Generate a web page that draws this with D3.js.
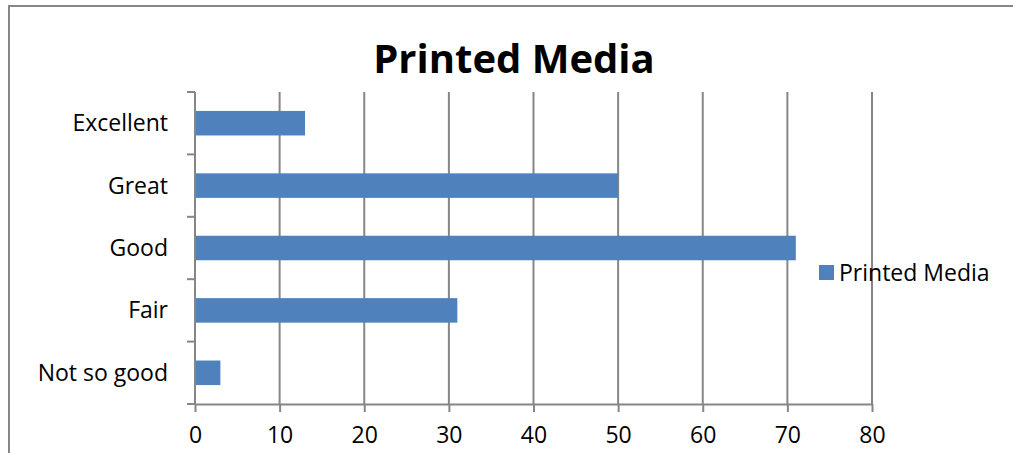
<!DOCTYPE html>
<html>
<head>
<meta charset="utf-8">
<script src="https://cdn.jsdelivr.net/npm/d3@7"></script>
<style>
  html, body { margin: 0; padding: 0; background: #fff; overflow: hidden; }
  svg { display: block; font-family: "Open Sans", "Liberation Sans", sans-serif; }
</style>
</head>
<body>
<svg id="chart" width="1013" height="453"></svg>
<script>
// Survey ratings for printed media
const categories = ["Excellent", "Great", "Good", "Fair", "Not so good"];
const values = [13, 50, 71, 31, 3];
const xTicks = [0, 10, 20, 30, 40, 50, 60, 70, 80];
const seriesName = "Printed Media";
const chartTitle = "Printed Media";

const svg = d3.select("#chart");
const barColor = "#4F81BD";
const lineColor = "#868686";

// outer chart frame (left and top edges visible)
svg.append("line")
  .attr("x1", 9).attr("x2", 9).attr("y1", 6).attr("y2", 453)
  .attr("stroke", lineColor).attr("stroke-width", 2);
svg.append("line")
  .attr("x1", 8).attr("x2", 1013).attr("y1", 6).attr("y2", 6)
  .attr("stroke", lineColor).attr("stroke-width", 2);

const plot = { left: 195, right: 872, top: 92, bottom: 404 };

const x = d3.scaleLinear().domain([0, 80]).range([plot.left, plot.right]);
const y = d3.scaleBand()
  .domain(categories)
  .range([plot.top, plot.bottom])
  .paddingInner(0.607)
  .paddingOuter(0.3035);

// vertical gridlines
svg.append("g")
  .selectAll("line")
  .data(xTicks.filter(d => d > 0))
  .join("line")
  .attr("x1", d => x(d)).attr("x2", d => x(d))
  .attr("y1", plot.top).attr("y2", plot.bottom)
  .attr("stroke", lineColor)
  .attr("stroke-width", 2);

// bars
svg.append("g")
  .selectAll("rect")
  .data(categories.map((c, i) => ({ c, v: values[i] })))
  .join("rect")
  .attr("x", x(0))
  .attr("y", d => y(d.c))
  .attr("width", d => x(d.v) - x(0))
  .attr("height", y.bandwidth())
  .attr("fill", barColor);

// x axis
const xAxis = svg.append("g")
  .attr("transform", `translate(0,${plot.bottom})`)
  .call(d3.axisBottom(x).tickValues(xTicks).tickSizeOuter(0).tickSizeInner(8).tickPadding(15));
xAxis.select(".domain").attr("stroke", lineColor).attr("stroke-width", 2);
xAxis.selectAll(".tick line").attr("stroke", lineColor).attr("stroke-width", 2);
xAxis.selectAll(".tick text")
  .attr("fill", "#000")
  .style("font-size", "23px")
  .style("font-family", "'Open Sans', sans-serif");

// y axis: line with ticks at category boundaries
const yAxis = svg.append("g");
yAxis.append("line")
  .attr("x1", plot.left).attr("x2", plot.left)
  .attr("y1", plot.top).attr("y2", plot.bottom)
  .attr("stroke", lineColor).attr("stroke-width", 2);
const boundaries = d3.range(categories.length + 1).map(i => plot.top + i * y.step());
yAxis.selectAll(".bt")
  .data(boundaries)
  .join("line")
  .attr("x1", plot.left - 8).attr("x2", plot.left)
  .attr("y1", d => d).attr("y2", d => d)
  .attr("stroke", lineColor).attr("stroke-width", 2);
yAxis.selectAll("text")
  .data(categories)
  .join("text")
  .attr("x", 168)
  .attr("y", d => y(d) + y.bandwidth() / 2)
  .attr("dy", "0.35em")
  .attr("text-anchor", "end")
  .style("font-size", "23px")
  .text(d => d);

// title
svg.append("text")
  .attr("x", 514)
  .attr("y", 73)
  .attr("text-anchor", "middle")
  .style("font-size", "40px")
  .style("font-weight", "bold")
  .text(chartTitle);

// legend
const legend = svg.append("g");
legend.append("rect")
  .attr("x", 819).attr("y", 265)
  .attr("width", 15).attr("height", 15)
  .attr("fill", barColor);
legend.append("text")
  .attr("x", 839).attr("y", 272.5)
  .attr("dy", "0.35em")
  .style("font-size", "23px")
  .text(seriesName);
</script>
</body>
</html>
